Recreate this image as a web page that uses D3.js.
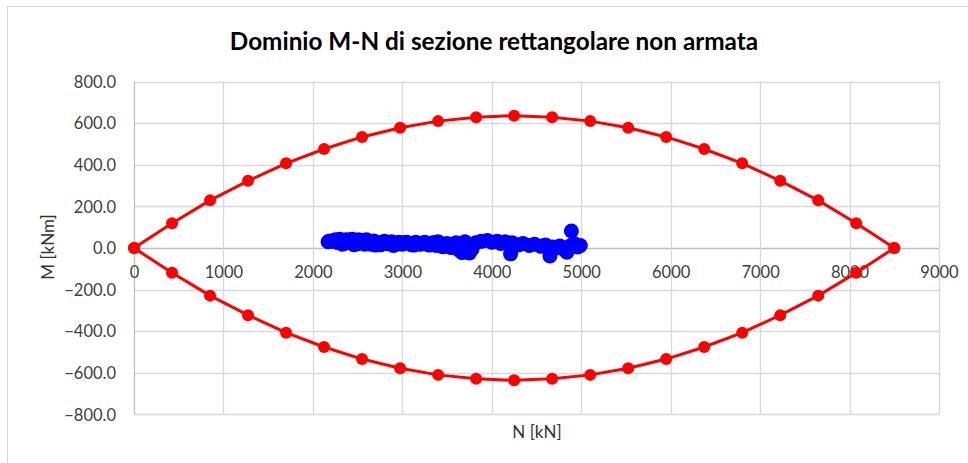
<!DOCTYPE html>
<html>
<head>
<meta charset="utf-8">
<script src="https://cdn.jsdelivr.net/npm/d3@7"></script>
<style>
  html, body { margin: 0; padding: 0; background: #fff; }
  svg { display: block; }
  text { font-family: Lato, "Open Sans", sans-serif; fill: #404040; }
</style>
</head>
<body>
<svg id="chart" width="968" height="463"></svg>
<script>
// ---- Data ----
const title = "Dominio M-N di sezione rettangolare non armata";
const xLabel = "N [kN]";
const yLabel = "M [kNm]";
const xTicks = [0, 1000, 2000, 3000, 4000, 5000, 6000, 7000, 8000, 9000];
const yTicks = [-800, -600, -400, -200, 0, 200, 400, 600, 800];

// Domain boundary (red): axial force N and moments (upper / lower branch)
const domainN = [0, 425, 850, 1275, 1700, 2125, 2550, 2975, 3400, 3825, 4250,
                 4675, 5100, 5525, 5950, 6375, 6800, 7225, 7650, 8075, 8500];
const domainMupper = [0, 119, 229, 323, 407, 476, 534, 578, 610, 629, 636,
                      629, 610, 578, 534, 476, 407, 323, 229, 119, 0];
const domainMlower = [0, -119, -229, -323, -407, -476, -534, -578, -610, -629, -636,
                      -629, -610, -578, -534, -476, -407, -323, -229, -119, 0];

// Load combinations (blue)
const loadN = [2170, 2190, 2220, 2250, 2280, 2300, 2320, 2350, 2370, 2400,
               2420, 2440, 2470, 2490, 2510, 2550, 2570, 2600, 2620, 2650,
               2680, 2720, 2760, 2800, 2840, 2880, 2920, 2960, 3000, 3050,
               3100, 3150, 3200, 3250, 3300, 3350, 3400, 3420, 3450, 3500,
               3550, 3600, 3640, 3670, 3700, 3720, 3750, 3780, 3820, 3880,
               3950, 4000, 4060, 4100, 4150, 4210, 4230, 4300, 4350, 4420,
               4480, 4550, 4600, 4650, 4680, 4720, 4760, 4800, 4840, 4870,
               4890, 4920, 4960, 4990,
               2330, 2460, 2580, 2700, 2780, 2900, 3020, 3130, 3270, 3380, 3480, 3580];
const loadM = [30, 34, 32, 40, 26, 42, 34, 22, 40, 38,
               24, 42, 33, 20, 40, 36, 22, 40, 30, 18,
               34, 26, 16, 32, 20, 30, 16, 28, 18, 28,
               16, 28, 18, 28, 14, 26, 30, 12, 6, 22,
               2, 25, -12, -22, 30, -8, -24, -5, 25, 32,
               36, 28, 32, 22, 30, -28, 25, 15, 22, 12,
               18, 8, 15, -38, 5, 0, 10, -5, -20, 8,
               82, 22, 5, 12,
               18, 16, 18, 14, 26, 12, 26, 14, 20, 12, 8, 10];

// ---- Layout ----
const svg = d3.select("#chart");
const plot = { left: 134, right: 939, top: 81.6, bottom: 414.4 };

// chart frame (only top/left visible like the reference)
svg.append("rect")
  .attr("x", 7.5).attr("y", 6.5)
  .attr("width", 980).attr("height", 480)
  .attr("fill", "none").attr("stroke", "#d9d9d9").attr("stroke-width", 1);

const x = d3.scaleLinear().domain([0, 9000]).range([plot.left, plot.right]);
const y = d3.scaleLinear().domain([-800, 800]).range([plot.bottom, plot.top]);

// gridlines
const grid = svg.append("g");
grid.selectAll("line.h").data(yTicks).join("line")
  .attr("x1", plot.left).attr("x2", plot.right)
  .attr("y1", d => Math.round(y(d)) + 0.5).attr("y2", d => Math.round(y(d)) + 0.5)
  .attr("stroke", d => d === 0 ? "#bfbfbf" : "#d9d9d9").attr("stroke-width", 1.3);
grid.selectAll("line.v").data(xTicks).join("line")
  .attr("y1", plot.top).attr("y2", plot.bottom)
  .attr("x1", d => Math.round(x(d)) + 0.5).attr("x2", d => Math.round(x(d)) + 0.5)
  .attr("stroke", d => d === 0 ? "#bfbfbf" : "#d9d9d9").attr("stroke-width", 1.3);

// y axis labels
const yAxis = d3.axisLeft(y).tickValues(yTicks).tickSize(0).tickPadding(0)
  .tickFormat(d3.format(".1f"));
const gy = svg.append("g").attr("transform", `translate(${plot.left - 18},0)`).call(yAxis);
gy.select(".domain").remove();
gy.selectAll("text").style("font-size", "16.5px").style("font-family", "Lato, sans-serif")
  .attr("fill", "#333333").attr("dy", "0.35em");

// x axis labels (next to the N axis at M=0)
const xAxis = d3.axisBottom(x).tickValues(xTicks).tickSize(0).tickPadding(0)
  .tickFormat(d3.format("d"));
const gx = svg.append("g").attr("transform", `translate(0,${y(0) + 18})`).call(xAxis);
gx.select(".domain").remove();
gx.selectAll("text").style("font-size", "16.5px").style("font-family", "Lato, sans-serif")
  .attr("fill", "#333333").attr("dy", "0.71em");

// red domain
const upper = domainN.map((n, i) => [n, domainMupper[i]]);
const lower = domainN.map((n, i) => [n, domainMlower[i]]);
const line = d3.line().x(d => x(d[0])).y(d => y(d[1]));
[upper, lower].forEach(s => {
  svg.append("path").datum(s).attr("d", line)
    .attr("fill", "none").attr("stroke", "#ff0000").attr("stroke-width", 3)
    .attr("stroke-linejoin", "round");
  svg.append("g").selectAll("circle").data(s).join("circle")
    .attr("cx", d => x(d[0])).attr("cy", d => y(d[1])).attr("r", 6)
    .attr("fill", "#ff0000");
});

// blue loads
const loads = loadN.map((n, i) => [n, loadM[i]]);
svg.append("g").selectAll("circle").data(loads).join("circle")
  .attr("cx", d => x(d[0])).attr("cy", d => y(d[1])).attr("r", 7.5)
  .attr("fill", "#0000ff");

// title
svg.append("text").attr("x", 494).attr("y", 50).attr("text-anchor", "middle")
  .style("font-size", "24.3px").style("font-weight", "bold")
  .style("fill", "#000")
  .text(title);

// axis titles
svg.append("text").attr("x", 537).attr("y", 438).attr("text-anchor", "middle")
  .style("font-size", "17px").style("fill", "#333333").text(xLabel);
svg.append("text").attr("transform", "translate(54,247) rotate(-90)")
  .attr("text-anchor", "middle").style("font-size", "17px").style("fill", "#333333").text(yLabel);
</script>
</body>
</html>
